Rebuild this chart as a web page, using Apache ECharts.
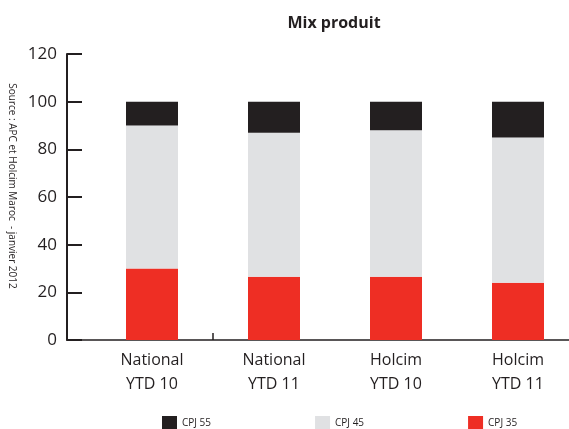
<!DOCTYPE html>
<html>
<head>
<meta charset="utf-8">
<script src="https://cdn.jsdelivr.net/npm/echarts@6/dist/echarts.min.js"></script>
<style>
  html, body { margin: 0; padding: 0; background: #fff; }
  #chart { width: 569px; height: 429px; }
</style>
</head>
<body>
<div id="chart"></div>
<script>
	// données
	var categories = ['National\nYTD 10', 'National\nYTD 11', 'Holcim\nYTD 10', 'Holcim\nYTD 11'];
	var cpj35 = [30, 26.5, 26.5, 24];
	var cpj45 = [60, 60.5, 61.5, 61];
	var cpj55 = [10, 13, 12, 15];
	var yTicks = [0, 20, 40, 60, 80, 100, 120];

	var ink = '#231f20';
	var font = '"Open Sans", "Noto Sans", sans-serif';

	var myChart = echarts.init(document.getElementById('chart'), null, { renderer: 'canvas' });

	var option = {
		animation: false,
		title: {
			text: 'Mix produit',
			left: 329,
			textAlign: 'center',
			top: 10,
			textStyle: { fontFamily: font, fontSize: 16, fontWeight: 'bold', color: ink }
		},
		legend: {
			data: ['CPJ 55', 'CPJ 45', 'CPJ 35'],
			left: 162,
			top: 416,
			padding: 0,
			icon: 'rect',
			itemWidth: 15,
			itemHeight: 14,
			itemGap: 104,
			textStyle: { fontFamily: font, fontSize: 10, color: ink }
		},
		graphic: [{
			type: 'text',
			x: 12,
			y: 186,
			rotation: -Math.PI / 2,
			style: {
				text: 'Source : APC et Holcim Maroc  - janvier 2012',
				font: '10px ' + font,
				fill: ink,
				align: 'center',
				verticalAlign: 'middle'
			}
		}],
		// grille 0 : axes ; grille 1 : barres
		grid: [
			{ left: 67, right: 0, top: 54, bottom: 89, outerBoundsMode: 'none' },
			{ left: 91, width: 488, top: 54, bottom: 89, outerBoundsMode: 'none' }
		],
		xAxis: [
			{
				gridIndex: 0,
				type: 'value',
				min: -0.697,
				max: 3.418,
				splitLine: { show: false },
				axisLine: { show: true, onZero: false, lineStyle: { color: ink, width: 1.5 } },
				axisTick: { show: true, inside: true, length: 7, customValues: [0.5], lineStyle: { color: ink, width: 1.5 } },
				axisLabel: { show: false }
			},
			{
				gridIndex: 1,
				type: 'category',
				data: categories,
				axisLine: { show: false },
				axisTick: { show: false },
				axisLabel: { fontFamily: font, fontSize: 16, lineHeight: 24, color: ink, margin: 8, interval: 0 }
			}
		],
		yAxis: [
			{
				gridIndex: 0,
				type: 'value',
				min: yTicks[0],
				max: yTicks[yTicks.length - 1],
				interval: 20,
				splitLine: { show: false },
				axisLine: { show: true, onZero: false, lineStyle: { color: ink, width: 2 } },
				axisTick: { show: true, inside: true, length: 15, lineStyle: { color: ink, width: 2 } },
				axisLabel: { fontFamily: font, fontSize: 17, color: ink, margin: 10 }
			},
			{
				gridIndex: 1,
				type: 'value',
				min: yTicks[0],
				max: yTicks[yTicks.length - 1],
				show: false
			}
		],
		series: [
			{ name: 'CPJ 35', type: 'bar', stack: 'mix', xAxisIndex: 1, yAxisIndex: 1, barWidth: 52, itemStyle: { color: '#ee2e24' }, data: cpj35 },
			{ name: 'CPJ 45', type: 'bar', stack: 'mix', xAxisIndex: 1, yAxisIndex: 1, barWidth: 52, itemStyle: { color: '#e0e1e3' }, data: cpj45 },
			{ name: 'CPJ 55', type: 'bar', stack: 'mix', xAxisIndex: 1, yAxisIndex: 1, barWidth: 52, itemStyle: { color: '#231f20' }, data: cpj55 }
		]
	};

	myChart.setOption(option);
</script>
</body>
</html>
